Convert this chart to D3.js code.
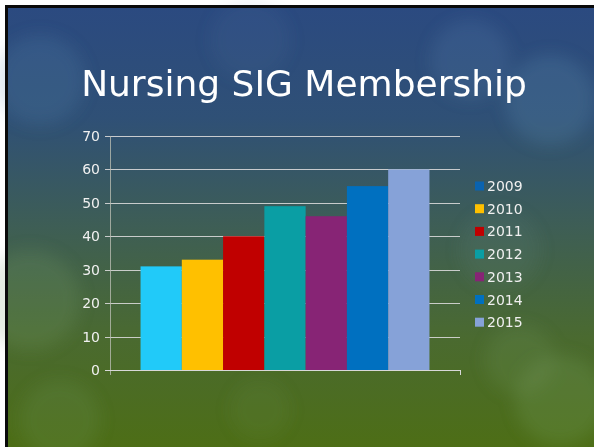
<!DOCTYPE html>
<html>
<head>
<meta charset="utf-8">
<script src="https://cdn.jsdelivr.net/npm/d3@7"></script>
<style>
  body { margin: 0; background: #fff; }
  svg { display: block; }
</style>
</head>
<body>
<svg id="chart" width="594" height="447"></svg>
<script>
// data
var years = ["2009", "2010", "2011", "2012", "2013", "2014", "2015"];
var members = [31, 33, 40, 49, 46, 55, 60];
var yTicks = [0, 10, 20, 30, 40, 50, 60, 70];
var barColors = ["#21CAF9", "#FFC000", "#C00000", "#0A9EA4", "#872475", "#0070C0", "#86A2D8"];
var legendColors = ["#0A63B0", "#FFC000", "#C00000", "#0A9EA4", "#872475", "#0070C0", "#86A2D8"];

var svg = d3.select("#chart");
var W = 594, H = 447;

var defs = svg.append("defs");
var bg = defs.append("linearGradient").attr("id", "bg")
  .attr("x1", 0).attr("y1", 0).attr("x2", 0).attr("y2", 1);
bg.append("stop").attr("offset", "0%").attr("stop-color", "#2B4A80");
bg.append("stop").attr("offset", "25%").attr("stop-color", "#2F5076");
bg.append("stop").attr("offset", "50%").attr("stop-color", "#3E5E55");
bg.append("stop").attr("offset", "75%").attr("stop-color", "#4A6A30");
bg.append("stop").attr("offset", "100%").attr("stop-color", "#4D6E16");

defs.append("filter").attr("id", "blur")
  .attr("x", "-50%").attr("y", "-50%").attr("width", "200%").attr("height", "200%")
  .append("feGaussianBlur").attr("stdDeviation", 8);

// slide background
svg.append("rect").attr("x", 8).attr("y", 8).attr("width", W - 8).attr("height", H - 8)
  .attr("fill", "url(#bg)");

// soft bokeh circles
var blobs = [
  [40, 80, 45, "#5a8ab0", 0.2], [470, 60, 40, "#6a9ac0", 0.15], [550, 100, 45, "#6a9ac0", 0.2],
  [30, 300, 50, "#7aa070", 0.2], [60, 420, 40, "#7aa070", 0.15], [560, 400, 45, "#80a870", 0.2],
  [520, 360, 35, "#80a870", 0.15], [500, 250, 40, "#6a9090", 0.12], [260, 410, 30, "#7aa060", 0.1],
  [250, 40, 40, "#5a80b0", 0.1]
];
svg.append("g").attr("filter", "url(#blur)")
  .selectAll("circle").data(blobs).enter().append("circle")
  .attr("cx", function(d){ return d[0]; })
  .attr("cy", function(d){ return d[1]; })
  .attr("r", function(d){ return d[2]; })
  .attr("fill", function(d){ return d[3]; })
  .attr("opacity", function(d){ return d[4]; });

// black frame top / left
svg.append("rect").attr("x", 5).attr("y", 5).attr("width", W - 5).attr("height", 3).attr("fill", "#0a0a0a");
svg.append("rect").attr("x", 5).attr("y", 5).attr("width", 3).attr("height", H - 5).attr("fill", "#0a0a0a");

// title
svg.append("text")
  .attr("x", 304).attr("y", 96)
  .attr("text-anchor", "middle")
  .style("font-family", "DejaVu Sans, Verdana, sans-serif")
  .style("font-size", "36px")
  .attr("fill", "#ffffff")
  .text("Nursing SIG Membership");

// chart
var plotLeft = 110, plotRight = 460, plotTop = 136, plotBottom = 370;
var x = d3.scaleBand().domain(years).range([plotLeft, plotRight]).paddingInner(0).paddingOuter(0.74);
var y = d3.scaleLinear().domain([0, 70]).range([plotBottom, plotTop]);

var g = svg.append("g");

// gridlines
g.selectAll(".grid").data(yTicks).enter().append("line")
  .attr("x1", plotLeft - 5).attr("x2", plotRight)
  .attr("y1", function(d){ return Math.round(y(d)) + 0.5; })
  .attr("y2", function(d){ return Math.round(y(d)) + 0.5; })
  .attr("stroke", "#d8d8d8").attr("stroke-opacity", 0.9).attr("stroke-width", 1);

// bars
g.selectAll(".bar").data(members).enter().append("rect")
  .attr("x", function(d, i){ return x(years[i]); })
  .attr("y", function(d){ return y(d); })
  .attr("width", x.bandwidth())
  .attr("height", function(d){ return y(0) - y(d); })
  .attr("fill", function(d, i){ return barColors[i]; });

// axes
var yAxis = d3.axisLeft(y).tickValues(yTicks).tickSize(0).tickPadding(10);
var ya = g.append("g").attr("transform", "translate(" + plotLeft + ",0)").call(yAxis);
ya.select(".domain").remove();
ya.selectAll("text")
  .style("font-family", "DejaVu Sans, Verdana, sans-serif")
  .style("font-size", "14px")
  .attr("fill", "#f0f0f0");

g.append("line").attr("x1", plotLeft + 0.5).attr("x2", plotLeft + 0.5).attr("y1", plotTop).attr("y2", plotBottom + 5)
  .attr("stroke", "#b8bcb0").attr("stroke-opacity", 0.8);
g.append("line").attr("x1", plotLeft - 5).attr("x2", plotRight + 0.5).attr("y1", plotBottom + 0.5).attr("y2", plotBottom + 0.5)
  .attr("stroke", "#d8d8d8");
g.append("line").attr("x1", plotRight + 0.5).attr("x2", plotRight + 0.5).attr("y1", plotBottom).attr("y2", plotBottom + 5)
  .attr("stroke", "#d8d8d8");

// legend
var legend = svg.append("g").attr("transform", "translate(475,186)");
var item = legend.selectAll("g").data(years).enter().append("g")
  .attr("transform", function(d, i){ return "translate(0," + (i * 22.7) + ")"; });
item.append("rect").attr("x", 0).attr("y", -4.5).attr("width", 9).attr("height", 9)
  .attr("fill", function(d, i){ return legendColors[i]; });
item.append("text").attr("x", 12).attr("y", 5)
  .style("font-family", "DejaVu Sans, Verdana, sans-serif")
  .style("font-size", "14px")
  .attr("fill", "#f0f0f0")
  .text(function(d){ return d; });
</script>
</body>
</html>
